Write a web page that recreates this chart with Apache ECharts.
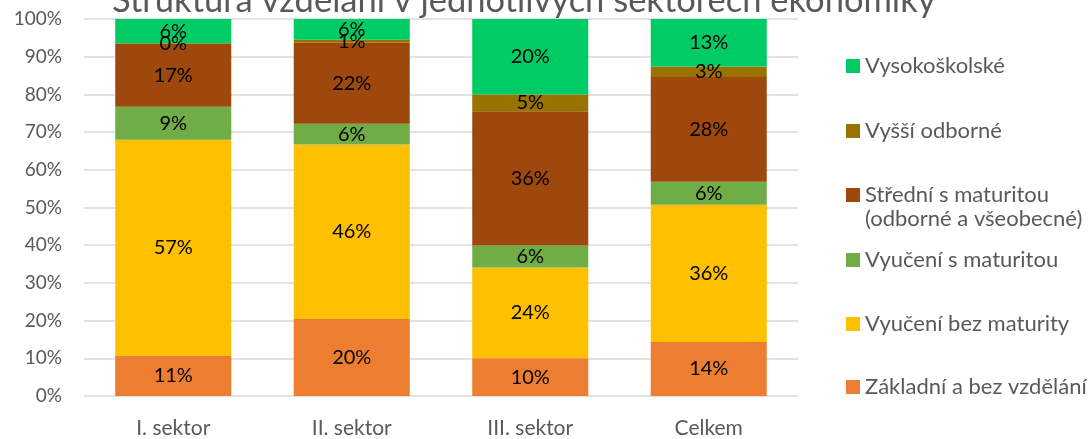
<!DOCTYPE html>
<html>
<head>
<meta charset="utf-8">
<script src="https://cdn.jsdelivr.net/npm/echarts@6/dist/echarts.min.js"></script>
<style>html,body{margin:0;padding:0;background:#fff;}#c{width:1091px;height:439px;}</style>
</head>
<body>
<div id="c"></div>
<script>
const categories = ['I. sektor', 'II. sektor', 'III. sektor', 'Celkem'];
const zakladni = [10.6, 20.4, 10.0, 14.3];
const vyuceniBez = [57.4, 46.3, 24.1, 36.4];
const vyuceniS = [8.7, 5.5, 5.8, 6.1];
const stredni = [16.7, 21.5, 35.6, 27.8];
const vyssi = [0.2, 0.8, 4.5, 2.8];
const vysoko = [6.4, 5.5, 20.0, 12.6];
const seriesNames = ['Základní a bez vzdělání', 'Vyučení bez maturity', 'Vyučení s maturitou', 'Střední s maturitou', 'Vyšší odborné', 'Vysokoškolské'];
const strednSecondLine = '(odborné a všeobecné)';
const yTicks = [0, 10, 20, 30, 40, 50, 60, 70, 80, 90, 100];
const titleText = 'Struktura vzdělání v jednotlivých sektorech ekonomiky';

const colors = ['#ED7D31', '#FFC000', '#70AD47', '#9E480E', '#997300', '#00CC66'];
const values = [zakladni, vyuceniBez, vyuceniS, stredni, vyssi, vysoko];
const FONT = 'Lato';

const chart = echarts.init(document.getElementById('c'));
const series = seriesNames.map((n, i) => ({
  name: n,
  type: 'bar',
  stack: 'total',
  barCategoryGap: '35%',
  data: values[i],
  itemStyle: { color: colors[i] },
  label: {
    show: true,
    position: 'inside',
    formatter: p => Math.round(p.value) + '%',
    color: '#000',
    fontFamily: FONT,
    fontSize: 20
  },
  emphasis: { disabled: true }
}));

const legendTops = [62, 127, 191, 256, 320, 383];
const legendOrder = [5, 4, 3, 2, 1, 0];
const legends = legendOrder.map((si, k) => ({
  data: [seriesNames[si]],
  left: 846,
  top: legendTops[k] - 7,
  padding: 0,
  orient: 'vertical',
  itemWidth: 14,
  itemHeight: 14,
  itemGap: 0,
  icon: 'rect',
  selectedMode: false,
  textStyle: { fontFamily: FONT, fontSize: 22, color: '#595959' }
}));

chart.setOption({
  animation: false,
  graphic: [{
    type: 'text',
    left: 112,
    top: -17,
    style: { text: titleText, font: '34.5px ' + FONT, fill: '#595959' }
  }, {
    type: 'text',
    left: 865,
    top: 221 - 13,
    style: { text: strednSecondLine, font: '22px ' + FONT, fill: '#595959' }
  }],
  legend: legends,
  grid: { left: 84, right: 293, top: 19, bottom: 42 },
  xAxis: {
    type: 'category',
    data: categories,
    axisLine: { show: false },
    axisTick: { show: false },
    axisLabel: { color: '#595959', fontFamily: FONT, fontSize: 21, margin: 22 }
  },
  yAxis: {
    type: 'value',
    min: 0,
    max: 100,
    interval: 10,
    axisLabel: {
      color: '#595959', fontFamily: FONT, fontSize: 19, margin: 22,
      formatter: v => yTicks.includes(v) ? v + '%' : ''
    },
    splitLine: { lineStyle: { color: '#D9D9D9', width: 1.5 } },
    axisLine: { show: false },
    axisTick: { show: false }
  },
  series: series
});
</script>
</body>
</html>
